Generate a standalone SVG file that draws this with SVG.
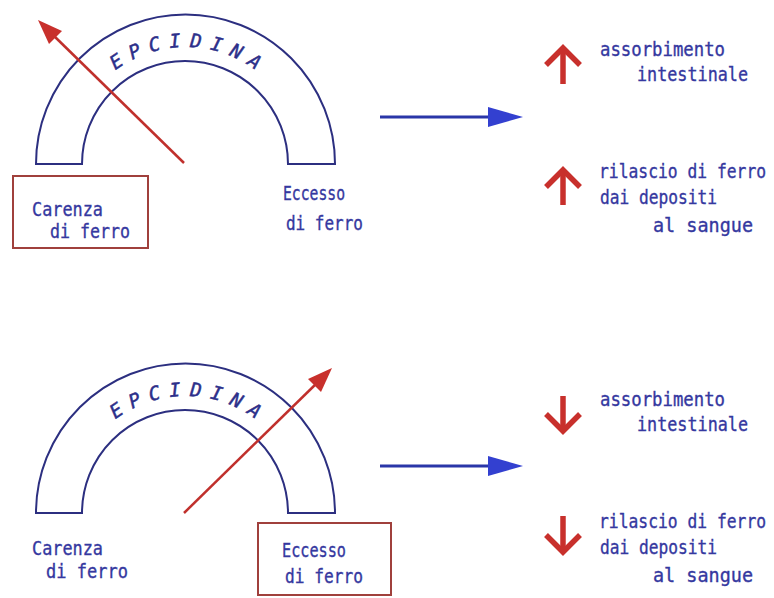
<svg xmlns="http://www.w3.org/2000/svg" width="774" height="598" viewBox="0 0 774 598">
<defs>
<style>
.gauge{fill:none;stroke:#2c2f80;stroke-width:2}
.lbl{font-family:"DejaVu Sans Mono","Liberation Mono",monospace;font-size:19px;fill:#3538a0;stroke:#3538a0;stroke-width:0.35}
.arc{font-family:"DejaVu Sans Mono","Liberation Mono",monospace;font-size:19px;fill:#2c2f8a;stroke:#2c2f8a;stroke-width:0.5;font-style:italic;text-anchor:middle}
.box{fill:none;stroke:#a0403c;stroke-width:2}
.needle{stroke:#c0302c;stroke-width:2.5;fill:none}
.needlehead{fill:#c8302c}
.flow{stroke:#2a36a8;stroke-width:3;fill:none}
.flowhead{fill:#3340d0}
.chev{stroke:#c8302c;stroke-width:5.5;fill:none;stroke-linejoin:miter;stroke-linecap:butt}
</style>
</defs>
<rect width="774" height="598" fill="#ffffff"/>

<g id="gauge-top">
<path class="gauge" d="M36,164 A149.5,149.5 0 0 1 335,164 L288,164 A103,103 0 0 0 82,164 Z"/>
<g>
<text class="arc" x="185.5" y="47" transform="rotate(-34 185.5 164)">E</text>
<text class="arc" x="185.5" y="47" transform="rotate(-24.3 185.5 164)">P</text>
<text class="arc" x="185.5" y="47" transform="rotate(-14.6 185.5 164)">C</text>
<text class="arc" x="185.5" y="47" transform="rotate(-4.9 185.5 164)">I</text>
<text class="arc" x="185.5" y="47" transform="rotate(4.9 185.5 164)">D</text>
<text class="arc" x="185.5" y="47" transform="rotate(14.6 185.5 164)">I</text>
<text class="arc" x="185.5" y="47" transform="rotate(24.3 185.5 164)">N</text>
<text class="arc" x="185.5" y="47" transform="rotate(34 185.5 164)">A</text>
</g>
</g>

<g id="carenza-top">
<rect class="box" x="13" y="176" width="135" height="72"/>
<text class="lbl" x="32" y="216" textLength="71" lengthAdjust="spacingAndGlyphs">Carenza</text>
<text class="lbl" x="50" y="238" textLength="80" lengthAdjust="spacingAndGlyphs">di ferro</text>
</g>

<g id="eccesso-top">
<text class="lbl" x="283" y="200" textLength="62" lengthAdjust="spacingAndGlyphs">Eccesso</text>
<text class="lbl" x="286" y="230" textLength="77" lengthAdjust="spacingAndGlyphs">di ferro</text>
</g>

<g id="effects-top">
<text class="lbl" x="600" y="56" textLength="125" lengthAdjust="spacingAndGlyphs">assorbimento</text>
<text class="lbl" x="637" y="81" textLength="111" lengthAdjust="spacingAndGlyphs">intestinale</text>
<text class="lbl" x="0" y="0" transform="translate(599 178) scale(0.86 1)">rilascio di ferro</text>
<text class="lbl" x="600" y="204" textLength="117" lengthAdjust="spacingAndGlyphs">dai depositi</text>
<text class="lbl" x="653" y="232" textLength="100" lengthAdjust="spacingAndGlyphs">al sangue</text>
</g>

<g id="gauge-bottom">
<path class="gauge" d="M36,513 A149.5,149.5 0 0 1 335,513 L288,513 A103,103 0 0 0 82,513 Z"/>
<g>
<text class="arc" x="185.5" y="396" transform="rotate(-34 185.5 513)">E</text>
<text class="arc" x="185.5" y="396" transform="rotate(-24.3 185.5 513)">P</text>
<text class="arc" x="185.5" y="396" transform="rotate(-14.6 185.5 513)">C</text>
<text class="arc" x="185.5" y="396" transform="rotate(-4.9 185.5 513)">I</text>
<text class="arc" x="185.5" y="396" transform="rotate(4.9 185.5 513)">D</text>
<text class="arc" x="185.5" y="396" transform="rotate(14.6 185.5 513)">I</text>
<text class="arc" x="185.5" y="396" transform="rotate(24.3 185.5 513)">N</text>
<text class="arc" x="185.5" y="396" transform="rotate(34 185.5 513)">A</text>
</g>
</g>

<g id="carenza-bottom">
<text class="lbl" x="32" y="555" textLength="71" lengthAdjust="spacingAndGlyphs">Carenza</text>
<text class="lbl" x="46" y="578" textLength="82" lengthAdjust="spacingAndGlyphs">di ferro</text>
</g>

<g id="eccesso-bottom">
<rect class="box" x="258" y="523" width="133" height="72"/>
<text class="lbl" x="282" y="557" textLength="64" lengthAdjust="spacingAndGlyphs">Eccesso</text>
<text class="lbl" x="285" y="583" textLength="78" lengthAdjust="spacingAndGlyphs">di ferro</text>
</g>

<g id="effects-bottom">
<text class="lbl" x="600" y="406" textLength="125" lengthAdjust="spacingAndGlyphs">assorbimento</text>
<text class="lbl" x="637" y="431" textLength="111" lengthAdjust="spacingAndGlyphs">intestinale</text>
<text class="lbl" x="0" y="0" transform="translate(599 528) scale(0.86 1)">rilascio di ferro</text>
<text class="lbl" x="600" y="554" textLength="117" lengthAdjust="spacingAndGlyphs">dai depositi</text>
<text class="lbl" x="653" y="582" textLength="100" lengthAdjust="spacingAndGlyphs">al sangue</text>
</g>

<g id="connectors">
<line class="needle" x1="184" y1="163" x2="52" y2="34"/>
<polygon class="needlehead" points="38,20 62,31 49,44"/>
<line class="needle" x1="184" y1="513" x2="318" y2="382"/>
<polygon class="needlehead" points="332,368 321,392 308,379"/>

<line class="flow" x1="380" y1="117" x2="492" y2="117"/>
<polygon class="flowhead" points="488,107 523,117 488,127"/>
<line class="flow" x1="380" y1="466" x2="492" y2="466"/>
<polygon class="flowhead" points="488,456 523,466 488,476"/>

<line class="chev" x1="563" y1="84" x2="563" y2="50"/>
<polyline class="chev" points="546,65 563,48 580,65"/>
<line class="chev" x1="563" y1="205" x2="563" y2="171"/>
<polyline class="chev" points="546,187 563,170 580,187"/>

<line class="chev" x1="563" y1="396" x2="563" y2="429"/>
<polyline class="chev" points="546,414 563,431 580,414"/>
<line class="chev" x1="563" y1="516" x2="563" y2="550"/>
<polyline class="chev" points="546,535 563,552 580,535"/>
</g>
</svg>
